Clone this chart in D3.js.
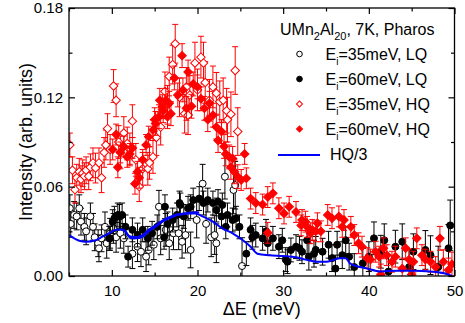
<!DOCTYPE html>
<html>
<head>
<meta charset="utf-8">
<script src="https://cdn.jsdelivr.net/npm/d3@7"></script>
<style>
  body { margin: 0; background: #fff; }
  svg { font-family: "Liberation Sans", Arial, sans-serif; }
</style>
</head>
<body>
<div id="chart"></div>
<script>
// [E (meV), intensity, error]
const lq35 = [
  [5.1,0.0455,0.009],[5.2,0.035,0.009],[5.6,0.041,0.009],[5.9,0.040,0.009],[6.2,0.0455,0.009],
  [6.4,0.0365,0.009],[6.8,0.033,0.009],[7.0,0.030,0.009],[7.5,0.040,0.009],[7.8,0.033,0.009],
  [8.0,0.026,0.009],[8.4,0.022,0.009],[8.5,0.0186,0.009],[8.8,0.0253,0.009],[9.2,0.033,0.010],
  [9.4,0.022,0.010],[9.8,0.0287,0.010],[10.2,0.032,0.010],[10.5,0.026,0.010],[11.0,0.0287,0.010],
  [11.4,0.0253,0.010],[12.4,0.015,0.010],[13.0,0.0197,0.010],[13.4,0.0163,0.010],[14.0,0.013,0.010],
  [14.3,0.0175,0.010],[14.9,0.021,0.010],[15.5,0.0465,0.011],[15.7,0.0253,0.011],[16.3,0.031,0.011],
  [16.7,0.022,0.011],[17.2,0.0287,0.011],[17.8,0.0287,0.011],[18.2,0.023,0.011],[18.6,0.0275,0.012],
  [19.2,0.0175,0.012],[19.9,0.0376,0.012],[20.6,0.062,0.013],[21.0,0.035,0.013],[21.6,0.026,0.013],
  [22.0,0.0275,0.013],[22.2,0.022,0.013],[23.2,0.0667,0.015],[24.2,0.0578,0.016],[24.4,0.061,0.016],
  [25.2,0.0067,0.019]
];
const lq60 = [
  [9.7,0.0253,0.008],[9.8,0.0253,0.008],[10.1,0.0365,0.008],[10.3,0.0388,0.008],[10.7,0.041,0.008],
  [10.9,0.040,0.008],[11.2,0.041,0.008],[11.6,0.033,0.008],[11.9,0.013,0.007],[12.4,0.031,0.008],
  [13.0,0.0275,0.008],[13.6,0.031,0.008],[14.2,0.0253,0.008],[14.7,0.0287,0.008],[15.3,0.033,0.008],
  [16.1,0.026,0.008],[16.2,0.0465,0.008],[16.5,0.035,0.008],[17.1,0.0376,0.008],[17.6,0.041,0.008],
  [17.9,0.049,0.008],[18.0,0.0477,0.008],[18.4,0.040,0.008],[18.9,0.0455,0.008],[19.2,0.0465,0.008],
  [19.5,0.051,0.008],[20.2,0.052,0.008],[20.7,0.049,0.008],[21.2,0.051,0.008],[21.8,0.049,0.008],
  [22.2,0.0443,0.008],[22.4,0.050,0.008],[22.8,0.040,0.008],[22.9,0.0477,0.008],[23.3,0.033,0.008],
  [23.5,0.041,0.008],[24.1,0.0376,0.008],[24.5,0.0388,0.008],[24.9,0.033,0.008],[25.7,0.015,0.008],
  [26.2,0.031,0.008],[26.4,0.026,0.008],[26.8,0.0275,0.008],[27.6,0.0253,0.008],[28.0,0.030,0.008],
  [28.2,0.022,0.008],[28.8,0.0253,0.008],[29.5,0.0197,0.008],[29.9,0.024,0.008],[30.3,0.011,0.008],
  [30.5,0.0096,0.008],[30.9,0.0175,0.008],[31.5,0.0197,0.008],[31.9,0.0186,0.008],[32.2,0.0163,0.008],
  [32.8,0.024,0.009],[33.0,0.013,0.009],[33.6,0.015,0.009],[33.8,0.0175,0.009],[34.6,0.0163,0.009],
  [35.3,0.021,0.009],[35.7,0.012,0.009],[36.1,0.005,0.009],[36.3,0.021,0.009],[36.9,0.014,0.009],
  [37.3,0.024,0.009],[37.7,0.013,0.009],[38.3,0.006,0.009],[39.3,0.0085,0.010],[40.0,0.013,0.010],
  [40.6,0.0253,0.011],[41.4,0.0163,0.011],[41.8,0.024,0.011],[42.3,0.003,0.011],[43.1,0.0197,0.011],
  [43.9,0.023,0.012],[44.7,0.006,0.012],[45.2,0.0163,0.012],[46.6,0.0175,0.013],[47.2,0.014,0.013],
  [48.1,0.006,0.014],[49.3,0.0186,0.016],[49.5,0.034,0.017]
];
const hq35 = [
  [5.1,0.088,0.008],[5.4,0.071,0.009],[5.7,0.058,0.009],[5.9,0.066,0.009],[6.2,0.070,0.009],
  [6.4,0.065,0.009],[6.6,0.069,0.009],[6.8,0.067,0.009],[7.0,0.071,0.009],[7.3,0.067,0.009],
  [7.5,0.073,0.009],[7.8,0.076,0.010],[8.1,0.0725,0.010],[8.5,0.076,0.010],[8.8,0.066,0.010],
  [9.1,0.083,0.010],[9.3,0.088,0.010],[9.5,0.099,0.010],[9.8,0.085,0.010],[10.2,0.1276,0.011],
  [10.5,0.118,0.011],[10.8,0.090,0.011],[11.0,0.083,0.011],[11.4,0.096,0.011],[11.8,0.089,0.011],
  [12.1,0.085,0.011],[12.4,0.104,0.011],[12.8,0.078,0.011],[13.2,0.060,0.010],[13.6,0.072,0.011],
  [14.2,0.072,0.011],[14.4,0.076,0.011],[14.8,0.080,0.011],[15.2,0.093,0.012],[15.7,0.100,0.012],
  [16.2,0.124,0.013],[16.5,0.115,0.013],[16.7,0.134,0.013],[17.1,0.142,0.013],[17.4,0.156,0.013],
  [17.9,0.120,0.013],[18.5,0.109,0.013],[18.7,0.127,0.013],[18.9,0.108,0.013],[19.1,0.1216,0.013],
  [19.7,0.143,0.014],[20.0,0.125,0.014],[20.4,0.147,0.014],[20.7,0.143,0.014],[20.9,0.130,0.014],
  [21.4,0.118,0.014],[21.8,0.127,0.014],[22.2,0.1227,0.014],[22.6,0.117,0.014],[23.0,0.118,0.015],
  [23.4,0.111,0.015],[23.5,0.105,0.015],[23.9,0.1086,0.015],[24.4,0.138,0.016],[24.7,0.097,0.016]
];
const hq60 = [
  [10.1,0.085,0.007],[10.5,0.095,0.007],[10.7,0.073,0.007],[11.0,0.083,0.007],[11.4,0.087,0.007],
  [11.8,0.080,0.007],[12.1,0.082,0.007],[12.4,0.086,0.007],[12.7,0.062,0.007],[13.0,0.070,0.007],
  [13.2,0.066,0.007],[13.6,0.078,0.007],[14.0,0.088,0.007],[14.3,0.0936,0.007],[14.8,0.098,0.007],
  [15.0,0.105,0.008],[15.1,0.1025,0.008],[15.5,0.107,0.008],[15.6,0.118,0.008],[15.9,0.1137,0.008],
  [16.0,0.111,0.008],[16.3,0.118,0.008],[16.5,0.107,0.008],[16.7,0.116,0.008],[16.9,0.109,0.008],
  [17.3,0.133,0.008],[17.7,0.1216,0.008],[18.2,0.148,0.008],[18.3,0.125,0.008],[18.7,0.1126,0.008],
  [18.9,0.137,0.008],[19.3,0.114,0.008],[19.5,0.129,0.008],[20.0,0.127,0.008],[20.4,0.119,0.008],
  [20.8,0.1126,0.008],[21.2,0.105,0.008],[21.4,0.116,0.008],[21.8,0.108,0.008],[22.2,0.100,0.008],
  [22.4,0.091,0.008],[22.8,0.097,0.008],[23.1,0.087,0.008],[23.3,0.082,0.008],[23.7,0.080,0.008],
  [23.9,0.073,0.008],[24.1,0.079,0.008],[24.3,0.070,0.008],[24.7,0.0667,0.008],[25.1,0.0645,0.007],
  [25.5,0.082,0.007],[25.7,0.0656,0.007],[26.2,0.052,0.007],[26.8,0.049,0.007],[27.6,0.048,0.007],
  [28.2,0.053,0.007],[28.2,0.029,0.007],[28.8,0.0555,0.007],[29.5,0.0455,0.007],[30.1,0.042,0.007],
  [30.7,0.0465,0.007],[31.5,0.043,0.007],[32.1,0.034,0.007],[32.2,0.0376,0.007],[32.6,0.0365,0.007],
  [32.8,0.033,0.007],[33.2,0.0287,0.007],[33.4,0.031,0.007],[33.8,0.030,0.007],[34.0,0.0354,0.007],
  [34.4,0.030,0.007],[35.2,0.041,0.007],[35.7,0.0388,0.007],[36.5,0.040,0.007],[36.9,0.033,0.007],
  [37.1,0.0376,0.007],[37.9,0.033,0.007],[38.3,0.0275,0.007],[38.8,0.022,0.007],[39.2,0.0197,0.007],
  [39.8,0.012,0.007],[40.2,0.011,0.007],[40.8,0.0163,0.007],[41.2,0.013,0.007],[41.4,0.001,0.007],
  [41.7,0.0186,0.007],[42.1,0.014,0.007],[42.7,0.0096,0.007],[43.1,0.013,0.007],[43.9,0.005,0.007],
  [44.3,0.0186,0.007],[44.7,0.011,0.007],[45.0,0.001,0.007],[45.2,0.0096,0.007],[45.6,0.0253,0.007],
  [46.2,0.014,0.007],[46.6,0.011,0.007],[47.2,0.0096,0.007],[47.8,0.006,0.007],[48.3,0.0253,0.008],
  [48.7,0.0096,0.008],[49.3,0.004,0.008],[49.7,0.008,0.008]
];
// HQ/3 curves
const hqThird = [
  [5.0,0.0275],[6.2,0.0237],[7.0,0.023],[8.1,0.024],[8.9,0.0264],[9.7,0.0287],[10.5,0.031],
  [11.1,0.0313],[11.6,0.030],[12.0,0.0264],[12.4,0.0253],[13.0,0.0253],[13.6,0.0264],[14.3,0.030],
  [15.1,0.033],[15.9,0.0365],[16.7,0.0388],[17.4,0.0405],[18.2,0.0414],[19.0,0.042],[19.8,0.042],
  [20.6,0.040],[21.8,0.0365],[22.9,0.032],[24.1,0.0287],[25.3,0.024],[26.2,0.0197],[27.0,0.015],
  [28.4,0.014],[29.9,0.0134],[31.5,0.0126],[32.6,0.011],[33.9,0.0096],[35.1,0.0096],[36.6,0.012],
  [37.3,0.012],[37.8,0.0085],[39.8,0.005],[41.4,0.003],[43.3,0.0036],[45.3,0.0036],[47.2,0.003],
  [48.8,0.0018],[49.7,0.0]
];
const hqThird35 = [
  [11.5,0.0305],[12.0,0.027],[12.5,0.0262],[13.0,0.0262],[13.6,0.0275],[14.3,0.031],[15.1,0.034],
  [15.9,0.0372],[16.7,0.0395],[17.4,0.041],[18.2,0.0418],[19.0,0.0425],[20.2,0.0428]
];
const xTicks = [10, 20, 30, 40, 50];
const xMinor = [5, 15, 25, 35, 45];
const yTicks = [0, 0.06, 0.12, 0.18];
const yMinor = [0.03, 0.09, 0.15];
const legendTitle = ["UMn", "2", "Al", "20", ", 7K, Pharos"];
const legendRows = ["=35meV, LQ", "=60meV, LQ", "=35meV, HQ", "=60meV, HQ"];

const width = 465, height = 323;
const margin = { top: 8, right: 10.5, bottom: 47, left: 69 };

const svg = d3.select("#chart").append("svg")
  .attr("width", width)
  .attr("height", height);

const x = d3.scaleLinear().domain([5, 50]).range([margin.left, width - margin.right]);
const y = d3.scaleLinear().domain([0, 0.18]).range([height - margin.bottom, margin.top]);

svg.append("clipPath").attr("id", "plotclip")
  .append("rect")
  .attr("x", margin.left).attr("y", margin.top)
  .attr("width", x(50) - x(5)).attr("height", y(0) - y(0.18));

const plot = svg.append("g").attr("clip-path", "url(#plotclip)");

function errorBars(data, color) {
  plot.append("g").attr("stroke", color).attr("stroke-width", 1).attr("fill", "none")
    .selectAll("path").data(data).join("path")
    .attr("d", d => {
      const cx = x(d[0]), y0 = y(d[1] - d[2]), y1 = y(d[1] + d[2]);
      return `M${cx},${y0}V${y1}M${cx - 3},${y1}H${cx + 3}M${cx - 3},${y0}H${cx + 3}`;
    });
}

function circles(data, filled) {
  plot.append("g").selectAll("circle").data(data).join("circle")
    .attr("cx", d => x(d[0])).attr("cy", d => y(d[1]))
    .attr("r", 3.5)
    .attr("fill", filled ? "#000" : "#fff")
    .attr("stroke", "#000").attr("stroke-width", 1);
}

const diamond = d3.symbol().type(d3.symbolSquare).size(36);
function diamonds(data, filled) {
  plot.append("g").selectAll("path").data(data).join("path")
    .attr("transform", d => `translate(${x(d[0])},${y(d[1])}) rotate(45)`)
    .attr("d", diamond)
    .attr("fill", filled ? "#ff0000" : "#fff")
    .attr("stroke", "#ff0000").attr("stroke-width", 1);
}

errorBars(lq35, "#000");
circles(lq35, false);
errorBars(lq60, "#000");
circles(lq60, true);
errorBars(hq35, "#ff0000");
diamonds(hq35, false);
errorBars(hq60, "#ff0000");
diamonds(hq60, true);

const line = d3.line().x(d => x(d[0])).y(d => y(d[1])).curve(d3.curveMonotoneX);
plot.append("path").datum(hqThird35)
  .attr("d", line).attr("fill", "none").attr("stroke", "#0000ff").attr("stroke-width", 2);
plot.append("path").datum(hqThird)
  .attr("d", line).attr("fill", "none").attr("stroke", "#0000ff").attr("stroke-width", 2);

// axes, ticks inward on all four sides
const fontSize = "15px";
function styleAxis(g) {
  g.select(".domain").remove();
  g.selectAll(".tick line").attr("stroke", "#000").attr("stroke-width", 1.2);
  g.selectAll(".tick text").attr("fill", "#000").style("font-size", fontSize)
    .style("font-family", "'Liberation Sans', Arial, sans-serif");
}
const yBottom = y(0), yTop = y(0.18), xLeft = x(5), xRight = x(50);

svg.append("g").attr("transform", `translate(0,${yBottom})`)
  .call(d3.axisBottom(x).tickValues(xTicks).tickSize(-6).tickPadding(9)).call(styleAxis);
svg.append("g").attr("transform", `translate(0,${yBottom})`)
  .call(d3.axisBottom(x).tickValues(xMinor).tickSize(-3.5).tickFormat("")).call(styleAxis);
svg.append("g").attr("transform", `translate(0,${yTop})`)
  .call(d3.axisTop(x).tickValues(xTicks).tickSize(-6).tickFormat("")).call(styleAxis);
svg.append("g").attr("transform", `translate(0,${yTop})`)
  .call(d3.axisTop(x).tickValues(xMinor).tickSize(-3.5).tickFormat("")).call(styleAxis);

svg.append("g").attr("transform", `translate(${xLeft},0)`)
  .call(d3.axisLeft(y).tickValues(yTicks).tickSize(-6).tickPadding(6).tickFormat(d3.format(".2f"))).call(styleAxis);
svg.append("g").attr("transform", `translate(${xLeft},0)`)
  .call(d3.axisLeft(y).tickValues(yMinor).tickSize(-3.5).tickFormat("")).call(styleAxis);
svg.append("g").attr("transform", `translate(${xRight},0)`)
  .call(d3.axisRight(y).tickValues(yTicks).tickSize(-6).tickFormat("")).call(styleAxis);
svg.append("g").attr("transform", `translate(${xRight},0)`)
  .call(d3.axisRight(y).tickValues(yMinor).tickSize(-3.5).tickFormat("")).call(styleAxis);

svg.append("rect")
  .attr("x", xLeft).attr("y", yTop)
  .attr("width", xRight - xLeft).attr("height", yBottom - yTop)
  .attr("fill", "none").attr("stroke", "#000").attr("stroke-width", 1.3);

// axis titles
svg.append("text")
  .attr("x", (xLeft + xRight) / 2).attr("y", 315)
  .attr("text-anchor", "middle").style("font-size", "18px")
  .text("\u0394E (meV)");
svg.append("text")
  .attr("transform", `translate(32,${(yTop + yBottom) / 2}) rotate(-90)`)
  .attr("text-anchor", "middle").style("font-size", "18px")
  .text("Intensity (arb. units)");

// legend
const lg = svg.append("g").style("font-size", "16px");
const t = lg.append("text").attr("x", 280).attr("y", 35);
t.append("tspan").text(legendTitle[0]);
t.append("tspan").attr("dy", 5).style("font-size", "11px").text(legendTitle[1]);
t.append("tspan").attr("dy", -5).text(legendTitle[2]);
t.append("tspan").attr("dy", 5).style("font-size", "11px").text(legendTitle[3]);
t.append("tspan").attr("dy", -5).text(legendTitle[4]);

legendRows.forEach((label, i) => {
  const by = 60 + i * 25;
  const sx = 299.5, sy = by - 6;
  if (i < 2) {
    lg.append("circle").attr("cx", sx).attr("cy", sy).attr("r", 2.8)
      .attr("fill", i === 1 ? "#000" : "#fff").attr("stroke", "#000").attr("stroke-width", 1);
  } else {
    lg.append("path").attr("transform", `translate(${sx},${sy}) rotate(45)`)
      .attr("d", d3.symbol().type(d3.symbolSquare).size(18))
      .attr("fill", i === 3 ? "#ff0000" : "#fff").attr("stroke", "#ff0000").attr("stroke-width", 1);
  }
  const tt = lg.append("text").attr("x", 325.5).attr("y", by);
  tt.append("tspan").text("E");
  tt.append("tspan").attr("dy", 5).style("font-size", "10px").text("i");
  tt.append("tspan").attr("dy", -5).text(label);
});
lg.append("line").attr("x1", 278).attr("x2", 320).attr("y1", 155).attr("y2", 155)
  .attr("stroke", "#0000ff").attr("stroke-width", 2);
lg.append("text").attr("x", 330).attr("y", 160).text("HQ/3");
</script>
</body>
</html>
